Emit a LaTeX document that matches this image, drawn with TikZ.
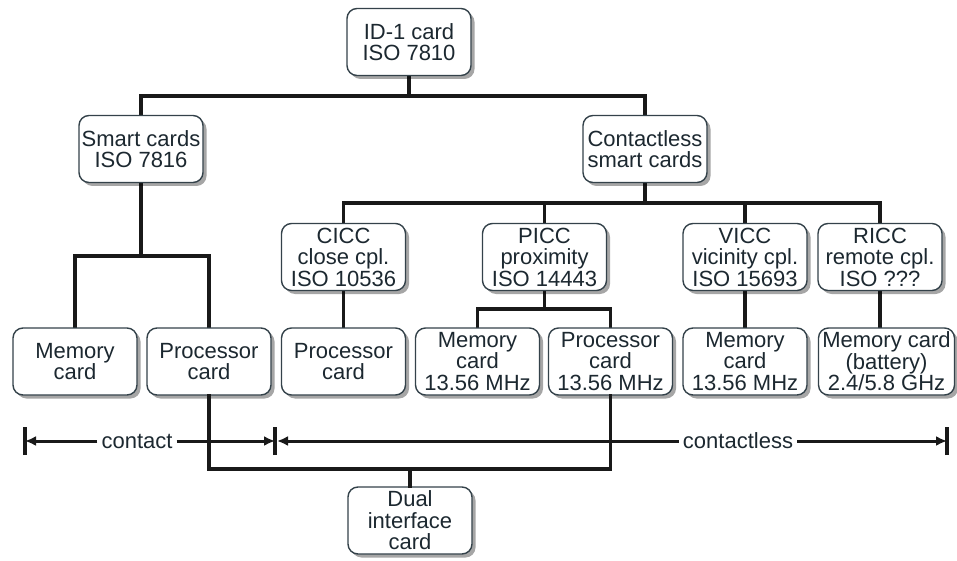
\documentclass[tikz,border=0pt]{standalone}
\usepackage{fontspec}
\setmainfont{Liberation Sans}
\usetikzlibrary{arrows.meta,shadows,backgrounds}
\definecolor{ink}{HTML}{1C2830}
\definecolor{edge}{HTML}{34424A}
\tikzset{
  card/.style={draw=edge, line width=1.4pt, fill=white, rounded corners=10pt,
    minimum width=124pt, minimum height=67pt, inner sep=1pt, align=center,
    text=ink, font=\fontsize{22}{21.5}\selectfont,
    drop shadow={shadow xshift=3.5pt, shadow yshift=-3.5pt, fill=black, opacity=0.35}},
  tree/.style={line width=3.8pt, draw=black!90, line cap=rect},
  spanline/.style={line width=3pt, draw=black!90},
  spantip/.style={-{Latex[length=11pt,width=10pt]}},
  spanlabel/.style={fill=white, text=ink, inner sep=4pt, font=\fontsize{22}{22}\selectfont},
}
\begin{document}
\begin{tikzpicture}[x=1pt,y=-1pt]
\useasboundingbox (0,0) rectangle (957,561);

% levels of the horizontal connector bars
\coordinate (yA) at (0,96);
\coordinate (yB) at (0,256);
\coordinate (yC) at (0,203);
\coordinate (yD) at (0,309);
\coordinate (yE) at (0,469);

% cards
\node[card] (id)    at (409,42)    {ID-1 card\\ISO 7810};
\node[card] (smart) at (141,149)   {Smart cards\\ISO 7816};
\node[card] (cless) at (645,149)   {Contactless\\smart cards};
\node[card] (cicc)  at (343.5,257) {CICC\\close cpl.\\ISO 10536};
\node[card] (picc)  at (544.5,257) {PICC\\proximity\\ISO 14443};
\node[card] (vicc)  at (745,257)   {VICC\\vicinity cpl.\\ISO 15693};
\node[card] (ricc)  at (880,257)   {RICC\\remote cpl.\\ISO ???};
\node[card] (mem1)  at (75,361.5)  {Memory\\card};
\node[card] (proc1) at (209,361.5) {Processor\\card};
\node[card] (proc2) at (343.5,361.5) {Processor\\card};
\node[card] (mem2)  at (477.5,361.5) {Memory\\card\\13.56 MHz};
\node[card] (proc3) at (610.5,361.5) {Processor\\card\\13.56 MHz};
\node[card] (mem3)  at (745,361.5) {Memory\\card\\13.56 MHz};
\node[card, minimum width=136pt] (mem4) at (886.5,361.5) {Memory card\\(battery)\\2.4/5.8 GHz};
\node[card] (dual)  at (410,520.5) {Dual\\interface\\card};

% contact / contactless span markers
\coordinate (cl) at (25,441);
\coordinate (cm) at (275,441);
\coordinate (cr) at (947,441);
\node[spanlabel] (tcontact) at (137,441) {contact};
\node[spanlabel] (tcless)   at (738,441) {contactless};

\draw[spanline, spantip] (tcontact.west) -- (cl);
\draw[spanline, spantip] (tcontact.east) -- (cm);
\draw[spanline, spantip] (tcless.west) -- ([xshift=2pt]cm);
\draw[spanline, spantip] (tcless.east) -- (cr);
\draw[spanline, line width=3.5pt] ([yshift=-14pt]cl) -- ([yshift=14pt]cl);
\draw[spanline, line width=3.5pt] ([yshift=-14pt]cm) -- ([yshift=14pt]cm);
\draw[spanline, line width=3.5pt] ([yshift=-14pt]cr) -- ([yshift=14pt]cr);

\begin{pgfonlayer}{background}
% tree lines
\draw[tree] (id.south) -- (id.south |- yA);
\draw[tree] (smart.north) -- (smart.north |- yA) -- (cless.north |- yA) -- (cless.north);
\draw[tree] (smart.south) -- (smart.south |- yB);
\draw[tree] (mem1.north) -- (mem1.north |- yB) -- (proc1.north |- yB) -- (proc1.north);
\draw[tree] (cless.south) -- (cless.south |- yC);
\draw[tree] (cicc.north) -- (cicc.north |- yC) -- (ricc.north |- yC) -- (ricc.north);
\draw[tree] (picc.north) -- (picc.north |- yC);
\draw[tree] (vicc.north) -- (vicc.north |- yC);
\draw[tree] (cicc.south) -- (proc2.north);
\draw[tree] (picc.south) -- (picc.south |- yD);
\draw[tree] (mem2.north) -- (mem2.north |- yD) -- (proc3.north |- yD) -- (proc3.north);
\draw[tree] (vicc.south) -- (mem3.north);
\draw[tree] (ricc.south) -- (ricc.south |- mem4.north);
\end{pgfonlayer}

% dual interface link, crossing over the span line
\draw[tree] (proc1.south) -- (proc1.south |- yE) -- (proc3.south |- yE) -- (proc3.south);
\draw[tree] (dual.north) -- (dual.north |- yE);
\end{tikzpicture}
\end{document}
